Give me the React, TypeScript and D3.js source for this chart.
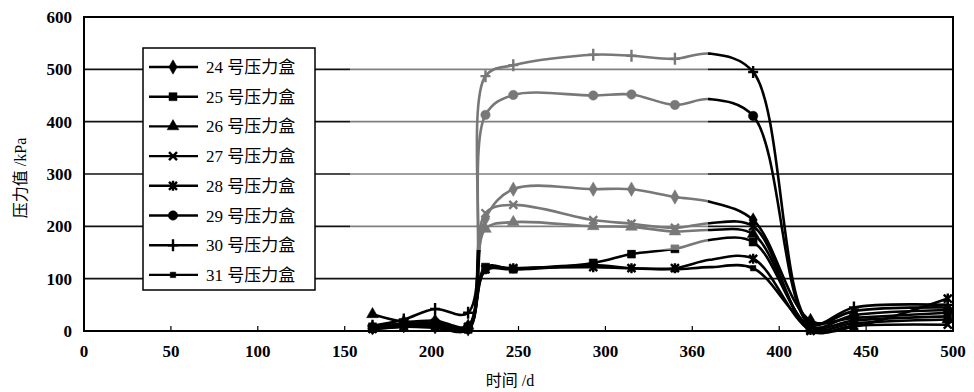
import React, { useEffect, useRef } from "react";
import * as d3 from "d3";

// measurement days
const days = [166, 184, 202, 221, 231, 247, 293, 315, 340, 360, 385, 418, 443, 497];
// days without a visible marker
const unmarkedDays = [360];

const seriesNames = ["24 号压力盒", "25 号压力盒", "26 号压力盒", "27 号压力盒", "28 号压力盒", "29 号压力盒", "30 号压力盒", "31 号压力盒"];
const s24 = [6, 10, 8, 4, 215, 271, 271, 271, 256, 247, 212, 20, 25, 35];
const s25 = [8, 14, 12, 3, 122, 118, 130, 147, 157, 174, 170, 8, 20, 28];
const s26 = [32, 18, 20, 10, 195, 208, 200, 199, 190, 193, 185, 5, 15, 22];
const s27 = [4, 8, 15, 5, 225, 241, 212, 205, 197, 206, 200, 0, 10, 12];
const s28 = [5, 10, 10, 8, 118, 120, 122, 120, 120, 136, 138, 2, 8, 62];
const s29 = [5, 12, 15, 8, 413, 451, 450, 452, 432, 443, 411, 10, 30, 40];
const s30 = [10, 22, 42, 35, 487, 508, 528, 526, 520, 530, 495, 15, 45, 50];
const s31 = [3, 8, 6, 2, 115, 118, 126, 120, 118, 122, 120, 12, 38, 45];
const seriesValues = [s24, s25, s26, s27, s28, s29, s30, s31];
const markerKinds = ["diamond", "square", "triangle", "x", "asterisk", "circle", "plus", "smallSquare"];

const xTicks = [0, 50, 100, 150, 200, 250, 300, 350, 400, 450, 500];
const xTickLabels = ["0", "50", "100", "150", "200", "250", "300", "360", "400", "450", "500"];
const yTicks = [0, 100, 200, 300, 400, 500, 600];

const W = 974;
const H = 392;
const margin = { top: 17, right: 21, bottom: 61, left: 84 };

const markerPath = (kind: string) => {
  switch (kind) {
    case "diamond": return d3.symbol(d3.symbolDiamond, 60)();
    case "square": return d3.symbol(d3.symbolSquare, 64)();
    case "smallSquare": return d3.symbol(d3.symbolSquare, 30)();
    case "triangle": return d3.symbol(d3.symbolTriangle, 60)();
    case "circle": return d3.symbol(d3.symbolCircle, 70)();
    case "x": return "M-4,-4L4,4M-4,4L4,-4";
    case "asterisk": return "M-4,-4L4,4M-4,4L4,-4M0,-5L0,5";
    case "plus": return "M0,-6L0,6M-5,0L5,0";
    default: return "";
  }
};
const strokeMarker = (k: string) => k === "x" || k === "asterisk" || k === "plus";

const App = () => {
  const ref = useRef<SVGSVGElement>(null);

  useEffect(() => {
    const svg = d3.select(ref.current);
    svg.selectAll("*").remove();

    const font = "'Liberation Serif', 'Noto Sans CJK SC', serif";

    const x = d3.scaleLinear().domain([0, 500]).range([margin.left, W - margin.right]);
    const y = d3.scaleLinear().domain([0, 600]).range([H - margin.bottom, margin.top]);

    // grid lines
    svg.append("g")
      .selectAll("line")
      .data(yTicks.slice(1, -1))
      .join("line")
      .attr("x1", x(0)).attr("x2", x(500))
      .attr("y1", (d) => y(d)).attr("y2", (d) => y(d))
      .attr("stroke", "#111").attr("stroke-width", 1.6);

    // frame
    svg.append("rect")
      .attr("x", x(0)).attr("y", y(600))
      .attr("width", x(500) - x(0)).attr("height", y(0) - y(600))
      .attr("fill", "none").attr("stroke", "#000").attr("stroke-width", 2);

    // x ticks (inward)
    svg.append("g")
      .selectAll("line")
      .data(xTicks.slice(1, -1))
      .join("line")
      .attr("x1", (d) => x(d)).attr("x2", (d) => x(d))
      .attr("y1", y(0)).attr("y2", y(0) - 5)
      .attr("stroke", "#000").attr("stroke-width", 1.2);

    // x tick labels
    svg.append("g")
      .selectAll("text")
      .data(xTicks)
      .join("text")
      .attr("x", (d) => x(d)).attr("y", y(0) + 26)
      .attr("text-anchor", "middle")
      .attr("font-family", font).attr("font-size", 17).attr("font-weight", "bold")
      .text((d, i) => xTickLabels[i]);

    // y tick labels
    svg.append("g")
      .selectAll("text")
      .data(yTicks)
      .join("text")
      .attr("x", x(0) - 12).attr("y", (d) => y(d) + 6)
      .attr("text-anchor", "end")
      .attr("font-family", font).attr("font-size", 17).attr("font-weight", "bold")
      .text((d) => d);

    // axis titles
    svg.append("text")
      .attr("transform", `translate(26,${(y(0) + y(600)) / 2 + 4}) rotate(-90)`)
      .attr("text-anchor", "middle")
      .attr("font-family", font).attr("font-size", 16)
      .text("压力值 /kPa");
    svg.append("text")
      .attr("x", 510).attr("y", 386)
      .attr("text-anchor", "middle")
      .attr("font-family", font).attr("font-size", 16)
      .text("时间 /d");

    const line = d3.line<number>()
      .x((d, i) => x(days[i]))
      .y((d) => y(d))
      .curve(d3.curveCatmullRom.alpha(0.5));

    const plot = svg.append("g");
    seriesValues.forEach((vals, si) => {
      plot.append("path")
        .attr("d", line(vals))
        .attr("fill", "none").attr("stroke", "#000").attr("stroke-width", 2.6);
      const kind = markerKinds[si];
      plot.append("g")
        .selectAll("path")
        .data(vals.map((v, i) => ({ d: days[i], v })).filter((p) => !unmarkedDays.includes(p.d)))
        .join("path")
        .attr("transform", (p) => `translate(${x(p.d)},${y(p.v)})`)
        .attr("d", markerPath(kind))
        .attr("fill", strokeMarker(kind) ? "none" : "#000")
        .attr("stroke", "#000")
        .attr("stroke-width", strokeMarker(kind) ? 2.4 : 0.5);
    });

    // faded (gray) part of the print
    svg.append("rect")
      .attr("x", 350).attr("y", y(600) + 2)
      .attr("width", 708 - 350).attr("height", 250 - y(600) - 2)
      .attr("fill", "#fff").attr("opacity", 0.47);

    // legend
    const lg = svg.append("g");
    lg.append("rect")
      .attr("x", 143).attr("y", 48).attr("width", 172).attr("height", 242)
      .attr("fill", "#fff").attr("stroke", "#000").attr("stroke-width", 1.5);
    seriesNames.forEach((name, i) => {
      const cy = 67 + i * 29.7;
      lg.append("line")
        .attr("x1", 149).attr("x2", 198).attr("y1", cy).attr("y2", cy)
        .attr("stroke", "#000").attr("stroke-width", 2.4);
      const kind = markerKinds[i];
      lg.append("path")
        .attr("transform", `translate(173,${cy})`)
        .attr("d", markerPath(kind))
        .attr("fill", strokeMarker(kind) ? "none" : "#000")
        .attr("stroke", "#000")
        .attr("stroke-width", strokeMarker(kind) ? 2.4 : 0.5);
      lg.append("text")
        .attr("x", 206).attr("y", cy + 6)
        .attr("font-family", font).attr("font-size", 17)
        .text(name);
    });
  }, []);

  return (
    <svg ref={ref} width={W} height={H} style={{ position: "absolute", left: 0, top: 0, background: "#fff" }}>
      {/* chart drawn by d3 */}
    </svg>
  );
};

export default App;
